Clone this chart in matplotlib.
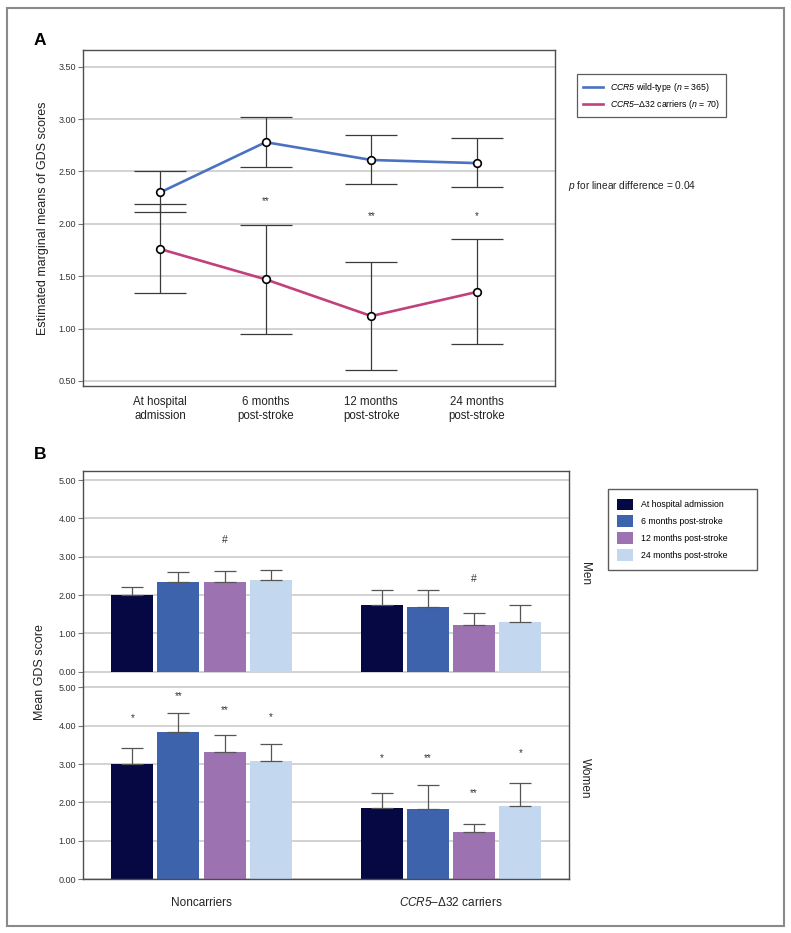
import matplotlib
matplotlib.use("Agg")
import matplotlib.pyplot as plt
import numpy as np
from matplotlib.lines import Line2D
from matplotlib.patches import Patch, Rectangle

plt.rcParams['font.family'] = ['Liberation Sans', 'DejaVu Sans']
plt.rcParams['mathtext.fontset'] = 'custom'
plt.rcParams['mathtext.it'] = 'Liberation Sans:italic'
plt.rcParams['mathtext.sf'] = 'Liberation Sans:italic'
plt.rcParams['mathtext.rm'] = 'Liberation Sans'

# ---------------- data: panel A ----------------
time_labels = ["At hospital\nadmission", "6 months\npost-stroke",
               "12 months\npost-stroke", "24 months\npost-stroke"]
wt_mean = [2.30, 2.78, 2.61, 2.58]
wt_lower = [2.11, 2.54, 2.38, 2.35]
wt_upper = [2.50, 3.02, 2.85, 2.82]
carrier_mean = [1.76, 1.47, 1.12, 1.35]
carrier_lower = [1.34, 0.95, 0.60, 0.85]
carrier_upper = [2.19, 1.99, 1.64, 1.86]
sig_a_labels = ["", "**", "**", "*"]
sig_a_y = [0, 2.22, 2.07, 2.07]
yticks_a = [0.50, 1.00, 1.50, 2.00, 2.50, 3.00, 3.50]

# ---------------- data: panel B ----------------
groups = ["Noncarriers", r"$\mathsf{CCR5}$–Δ32 carriers"]
series_labels = ["At hospital admission", "6 months post-stroke",
                 "12 months post-stroke", "24 months post-stroke"]
men_noncarriers = [2.01, 2.33, 2.33, 2.38]
men_noncarriers_err = [2.22, 2.59, 2.62, 2.66]
men_carriers = [1.73, 1.70, 1.23, 1.29]
men_carriers_err = [2.14, 2.14, 1.52, 1.73]
women_noncarriers = [3.00, 3.83, 3.31, 3.08]
women_noncarriers_err = [3.41, 4.33, 3.77, 3.53]
women_carriers = [1.86, 1.84, 1.22, 1.92]
women_carriers_err = [2.25, 2.46, 1.45, 2.52]
men_marks_noncarriers = ["", "", "#", ""]
men_marks_noncarriers_y = [0, 0, 3.43, 0]
men_marks_carriers = ["", "", "#", ""]
men_marks_carriers_y = [0, 0, 2.41, 0]
women_marks_noncarriers = ["*", "**", "**", "*"]
women_marks_noncarriers_y = [4.19, 4.78, 4.40, 4.23]
women_marks_carriers = ["*", "**", "**", "*"]
women_marks_carriers_y = [3.15, 3.15, 2.25, 3.29]
yticks_b = [0.00, 1.00, 2.00, 3.00, 4.00, 5.00]

blue_line = "#4a72c0"
pink_line = "#c2407b"
bar_colors = ["#050843", "#3e63ad", "#9c72b0", "#c3d7ef"]
grid_c = "#cfcfcf"
spine_c = "#4d4d4d"

W, H = 791, 933
fig = plt.figure(figsize=(W / 100, H / 100), dpi=100)


def frac(x0, y0, x1, y1):
    return [x0 / W, 1 - y1 / H, (x1 - x0) / W, (y1 - y0) / H]


# outer frame
fig.patches.append(Rectangle((7 / W, 1 - 926 / H), 777 / W, 918 / H,
                             transform=fig.transFigure, fill=False,
                             edgecolor="#8a8a8a", lw=1.5))

# ---------------- panel A ----------------
axA = fig.add_axes(frac(83, 50, 555, 386))
x = np.arange(len(time_labels))
wm, wl, wu = map(np.array, (wt_mean, wt_lower, wt_upper))
cm, cl, cu = map(np.array, (carrier_mean, carrier_lower, carrier_upper))
for m, lo, hi in ((wm, wl, wu), (cm, cl, cu)):
    axA.errorbar(x, m, yerr=[m - lo, hi - m], fmt="none", ecolor="#3a3a3a",
                 elinewidth=0.9, capsize=19, capthick=0.9, zorder=3)
axA.plot(x, wm, color=blue_line, lw=1.9, zorder=4)
axA.plot(x, cm, color=pink_line, lw=1.9, zorder=4)
for m in (wm, cm):
    axA.plot(x, m, "o", ms=5.5, mfc="white", mec="black", mew=1.2, zorder=5)
for xi, lab, yv in zip(x, sig_a_labels, sig_a_y):
    if lab:
        axA.text(xi, yv, lab, ha="center", va="center", fontsize=7, color="#333333")
axA.set_xlim(-0.73, 3.74)
axA.set_ylim(0.452, 3.66)
axA.set_yticks(yticks_a)
axA.set_yticklabels([f"{v:.2f}" for v in yticks_a], fontsize=6.5, color="#333333")
axA.set_xticks(x)
axA.set_xticklabels(time_labels, fontsize=8.3, color="#222222", linespacing=1.2)
axA.tick_params(axis="x", length=0, pad=7)
axA.tick_params(axis="y", length=3.6, width=0.8, color="#777777", pad=1.5)
axA.yaxis.grid(True, color=grid_c, lw=1.3)
axA.set_axisbelow(True)
for s in axA.spines.values():
    s.set_color(spine_c)
    s.set_linewidth(1.0)
axA.set_ylabel("Estimated marginal means of GDS scores", fontsize=9, color="#222222")
axA.yaxis.set_label_coords(-0.072, 0.5)

legA_handles = [Line2D([], [], color=blue_line, lw=1.9),
                Line2D([], [], color=pink_line, lw=1.9)]
legA_labels = [r"$\mathsf{CCR5}$ wild-type ($\mathsf{n}$ = 365)",
               r"$\mathsf{CCR5}$–Δ32 carriers ($\mathsf{n}$ = 70)"]
legA = fig.legend(legA_handles, legA_labels, loc="upper left",
                  bbox_to_anchor=(576.7 / W, 1 - 74.3 / H), fontsize=6.3,
                  frameon=True, fancybox=False, edgecolor="#333333",
                  handlelength=2.3, handletextpad=0.7, borderpad=0.75,
                  labelspacing=0.45, borderaxespad=0)
legA.get_frame().set_linewidth(0.9)
fig.text(567.7 / W, 1 - 186 / H, r"$\mathsf{p}$ for linear difference = 0.04",
         fontsize=7.3, ha="left", va="center", color="#222222")

fig.text(40 / W, 1 - 40.7 / H, "A", fontsize=12.5, fontweight="bold", ha="center", va="center")
fig.text(40 / W, 1 - 455 / H, "B", fontsize=12.5, fontweight="bold", ha="center", va="center")

# ---------------- panel B ----------------
axM = fig.add_axes(frac(83, 470.7, 569, 676))
axF = fig.add_axes(frac(83, 676, 569, 879.3))
step, width = 0.185, 0.168
offsets = (np.arange(4) - 1.5) * step
panels = [
    (axM, men_noncarriers, men_noncarriers_err, men_carriers, men_carriers_err,
     men_marks_noncarriers, men_marks_noncarriers_y, men_marks_carriers, men_marks_carriers_y,
     (-0.112, 5.243), "Men", 573),
    (axF, women_noncarriers, women_noncarriers_err, women_carriers, women_carriers_err,
     women_marks_noncarriers, women_marks_noncarriers_y, women_marks_carriers, women_marks_carriers_y,
     (0, 5.294), "Women", 778),
]
for (ax, nc, nce, ca, cae, mnc, mncy, mca, mcay, ylim, side, ymid) in panels:
    for gi, (vals, errs, marks, marks_y) in enumerate(((nc, nce, mnc, mncy), (ca, cae, mca, mcay))):
        vals = np.array(vals)
        errs = np.array(errs)
        xs = gi + offsets
        ax.bar(xs, vals, width=width, color=bar_colors, zorder=2)
        ax.errorbar(xs, vals, yerr=[np.zeros_like(vals), errs - vals], fmt="none",
                    ecolor="#555555", elinewidth=0.9, capsize=8, capthick=0.9, zorder=3)
        for xi, lab, yv in zip(xs, marks, marks_y):
            if lab:
                ax.text(xi, yv, lab, ha="center", va="center",
                        fontsize=7 if lab != "#" else 7.5, color="#333333")
    ax.set_xlim(-0.475, 1.4725)
    ax.set_ylim(*ylim)
    ax.set_yticks(yticks_b)
    ax.set_yticklabels([f"{v:.2f}" for v in yticks_b], fontsize=6.5, color="#333333")
    ax.tick_params(axis="y", length=3.6, width=0.8, color="#777777", pad=1.5)
    ax.yaxis.grid(True, color=grid_c, lw=1.3)
    ax.set_axisbelow(True)
    for s in ax.spines.values():
        s.set_color(spine_c)
        s.set_linewidth(1.0)
    fig.text(585 / W, 1 - ymid / H, side, rotation=270, fontsize=8.5,
             ha="center", va="center", color="#222222")

axM.spines["bottom"].set_visible(False)
axF.spines["top"].set_visible(False)
axM.set_xticks([])
axF.set_xticks([0, 1])
axF.set_xticklabels(groups, fontsize=8.5, color="#222222")
axF.tick_params(axis="x", length=0, pad=19.5)
for t in axF.get_xticklabels():
    t.set_verticalalignment("baseline")
fig.text(40 / W, 1 - 672 / H, "Mean GDS score", rotation=90, fontsize=9,
         ha="center", va="center", color="#222222")

legB_handles = [Patch(facecolor=c) for c in bar_colors]
legB = fig.legend(legB_handles, series_labels, loc="upper left",
                  bbox_to_anchor=(607.7 / W, 1 - 585 / H, 149 / W, 96 / H),
                  mode="expand", fontsize=6.3, frameon=True, fancybox=False,
                  edgecolor="#333333", handlelength=1.83, handleheight=1.7,
                  handletextpad=0.9, borderpad=1.1, labelspacing=0.57,
                  borderaxespad=0)
legB.get_frame().set_linewidth(1.0)

fig.savefig("out.png", dpi=100)
